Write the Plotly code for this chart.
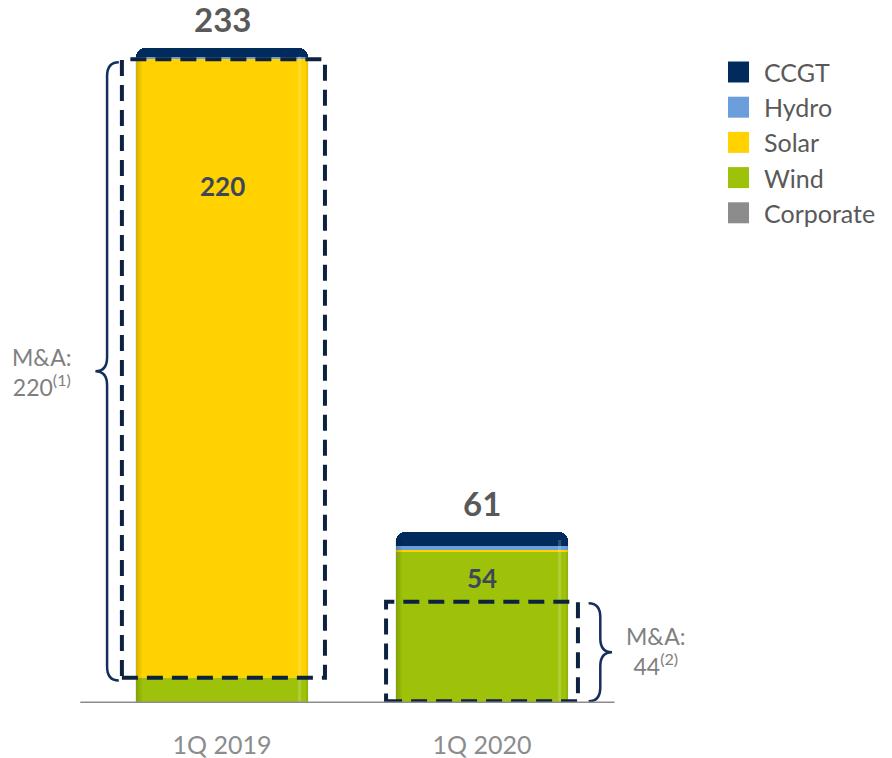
import plotly.graph_objects as go

# Quarterly values by technology
categories = ["1Q 2019", "1Q 2020"]
series_names = ["Wind", "Solar", "Hydro", "CCGT", "Corporate"]
wind = [9, 54]
solar = [220, 0.5]
hydro = [1, 1.5]
ccgt = [3, 5]
corporate = [0, 0]
totals = [233, 61]
inner_labels = ["220", "54"]
ma_labels = ["M&A:<br>220<sup>(1)</sup>", "M&A:<br>44<sup>(2)</sup>"]

colors = {
    "CCGT": "#002b5c",
    "Hydro": "#6a9fdc",
    "Solar": "#ffd200",
    "Wind": "#9dc209",
    "Corporate": "#8c8c8c",
}
values = {"Wind": wind, "Solar": solar, "Hydro": hydro, "CCGT": ccgt, "Corporate": corporate}
legend_order = ["CCGT", "Hydro", "Solar", "Wind", "Corporate"]

FONT = "Lato"
PLOT_TOP, PLOT_BOTTOM, W = 20, 703, 892
BAR_W = 0.665


def paper_y(p):
    return (PLOT_BOTTOM - p) / (PLOT_BOTTOM - PLOT_TOP)


x = list(range(len(categories)))
fig = go.Figure()
for name in series_names:
    fig.add_trace(go.Bar(
        x=x, y=values[name], name=name,
        marker=dict(color=colors[name], line=dict(width=0), cornerradius=9),
        width=BAR_W, showlegend=False, hoverinfo="name+y",
    ))

# Soft edge shading on each bar column (darker left edge, light right highlight)
for i, t in enumerate(totals):
    left = x[i] - BAR_W / 2
    right = x[i] + BAR_W / 2
    top = t - 3
    for k, alpha in enumerate([0.16, 0.10, 0.05]):
        fig.add_shape(type="rect", x0=left + k * 0.008, x1=left + (k + 1) * 0.008,
                      y0=0, y1=top, fillcolor=f"rgba(0,0,0,{alpha})", line=dict(width=0))
    fig.add_shape(type="rect", x0=right - 0.04, x1=right - 0.028, y0=0, y1=top,
                  fillcolor="rgba(255,255,255,0.18)", line=dict(width=0))
    fig.add_shape(type="rect", x0=right - 0.008, x1=right, y0=0, y1=top,
                  fillcolor="rgba(0,0,0,0.08)", line=dict(width=0))

# Totals above the bars
for i, t in enumerate(totals):
    fig.add_annotation(x=x[i], y=t, text=f"<b>{t}</b>", showarrow=False,
                       yanchor="middle", yshift=29,
                       font=dict(family=FONT, size=33, color="#595959"))

# Labels inside the bars
inner_label_y = [184, 44.5]
for i, lab in enumerate(inner_labels):
    fig.add_annotation(x=x[i], y=inner_label_y[i], text=f"<b>{lab}</b>", showarrow=False,
                       font=dict(family=FONT, size=26, color="#3d4759"))

# Dashed M&A boxes
box_color = "#0d2240"
dash = "16px,9px"
box1 = (-0.385, 0.396, wind[0], wind[0] + solar[0])
box2 = (1 - 0.369, 1 + 0.369, 0.6, 36)
for bx0, bx1, by0, by1 in (box1, box2):
    fig.add_shape(type="rect", x0=bx0, x1=bx1, y0=by0, y1=by1,
                  line=dict(color=box_color, width=4, dash=dash), layer="above")


def brace(xs, y0, y1, w, r, tip_dir):
    """Curly brace with its spine at xs; tip_dir=-1 points left, +1 points right."""
    ym = (y0 + y1) / 2
    xe = xs - tip_dir * w      # ends
    xt = xs + tip_dir * w      # tip
    return (f"M {xe},{y1} Q {xs},{y1} {xs},{y1 - r} L {xs},{ym + r} "
            f"Q {xs},{ym} {xt},{ym} Q {xs},{ym} {xs},{ym - r} "
            f"L {xs},{y0 + r} Q {xs},{y0} {xe},{y0}")


brace_color = "#142f5c"
fig.add_shape(type="path", path=brace(-0.442, 8, 228, 0.045, 5, -1),
              line=dict(color=brace_color, width=2.5))
fig.add_shape(type="path", path=brace(1 + 0.455, 0.6, 35.5, 0.045, 5, 1),
              line=dict(color=brace_color, width=2.5))

# M&A call-outs beside the braces
fig.add_annotation(xref="paper", yref="paper", x=42 / W, y=paper_y(372), text=ma_labels[0],
                   showarrow=False, align="center", xanchor="center", yanchor="middle",
                   font=dict(family=FONT, size=23, color="#7f7f7f"))
fig.add_annotation(xref="paper", yref="paper", x=656 / W, y=paper_y(651), text=ma_labels[1],
                   showarrow=False, align="center", xanchor="center", yanchor="middle",
                   font=dict(family=FONT, size=23, color="#7f7f7f"))

# Baseline
fig.add_shape(type="line", x0=-0.545, x1=1.51, y0=0, y1=0,
              line=dict(color="#8c8c8c", width=3), layer="above")

# Legend
for i, name in enumerate(legend_order):
    cy = 72 + i * 35.2
    fig.add_shape(type="rect", xref="paper", yref="paper",
                  x0=728 / W, x1=749 / W, y0=paper_y(cy + 10.5), y1=paper_y(cy - 10.5),
                  fillcolor=colors[name], line=dict(width=0))
    fig.add_annotation(xref="paper", yref="paper", x=762 / W, y=paper_y(cy), text=name,
                       showarrow=False, xanchor="left", yanchor="middle",
                       font=dict(family=FONT, size=25, color="#595959"))

fig.update_layout(
    width=892, height=758,
    margin=dict(l=0, r=0, t=PLOT_TOP, b=758 - PLOT_BOTTOM),
    barmode="stack", bargap=0,
    plot_bgcolor="white", paper_bgcolor="white",
    font=dict(family=FONT),
    xaxis=dict(domain=[79 / W, 625 / W], range=[-0.55, 1.55],
               tickvals=x, ticktext=categories, showgrid=False, zeroline=False,
               showline=False, ticks="outside", ticklen=20, tickcolor="rgba(0,0,0,0)",
               tickfont=dict(family=FONT, size=25, color="#8c8c8c")),
    yaxis=dict(range=[0, 243], visible=False),
)

fig.write_html("out.html")
